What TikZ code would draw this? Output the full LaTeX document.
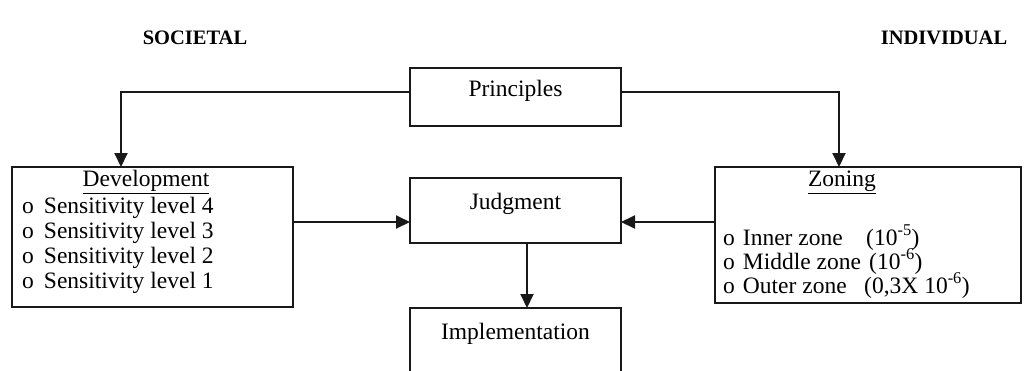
\documentclass[tikz,border=0pt]{standalone}
\usepackage{fontspec}
\setmainfont{Liberation Serif}
\usetikzlibrary{arrows.meta}
\tikzset{
  boxline/.style={draw=black!90, line width=2pt},
  conn/.style={draw=black!90, line width=2pt, -{Triangle[length=14pt,width=13pt]}},
  body/.style={font=\fontsize{23.5}{25}\selectfont, inner sep=0pt},
  item/.style={body, anchor=base west},
  head/.style={font=\fontsize{20.5}{22}\selectfont\bfseries, inner sep=0pt}
}
\begin{document}
\begin{tikzpicture}[x=1pt,y=-1pt]
\useasboundingbox (0,0) rectangle (1031,370);
% headings
\node[head] (soc) at (195,38) {SOCIETAL};
\node[head] (ind) at (944,38) {INDIVIDUAL};
% boxes
\draw[boxline] (410,68) rectangle (621,126);
\coordinate (pL) at (410,92); \coordinate (pR) at (621,92);
\node[body] (prin) at (515.5,91) {Principles};
\draw[boxline] (410,178) rectangle (621,243);
\coordinate (jL) at (410,222); \coordinate (jR) at (621,222); \coordinate (jB) at (527,243);
\node[body] (judg) at (515.5,204) {Judgment};
\draw[boxline] (410,308) rectangle (621,372);
\coordinate (iT) at (527,308);
\node[body] (impl) at (515.5,334) {Implementation};
% Development
\draw[boxline] (12,167) rectangle (293,307);
\coordinate (dT) at (121,167); \coordinate (dR) at (293,222);
\node[body] (dev) at (146,182) {\underline{Development}};
\node[item] (d4) at (22,213) {o\hspace{10pt}Sensitivity level 4};
\node[item] (d3) at (22,238) {o\hspace{10pt}Sensitivity level 3};
\node[item] (d2) at (22,263) {o\hspace{10pt}Sensitivity level 2};
\node[item] (d1) at (22,288) {o\hspace{10pt}Sensitivity level 1};
% Zoning
\draw[boxline] (715,167) rectangle (1021,303);
\coordinate (zT) at (839,167); \coordinate (zL) at (715,222);
\node[body] (zon) at (842,182) {\underline{Zoning}};
\node[item] (z1) at (723,245) {o\hspace{8pt}Inner zone};
\node[item] (z1v) at (866,245) {(10\textsuperscript{-5})};
\node[item] (z2) at (723,269) {o\hspace{8pt}Middle zone};
\node[item] (z2v) at (869,269) {(10\textsuperscript{-6})};
\node[item] (z3) at (723,293) {o\hspace{8pt}Outer zone};
\node[item] (z3v) at (864,293) {(0,3X 10\textsuperscript{-6})};
% connectors
\draw[conn] (pL) -| (dT);
\draw[conn] (pR) -| (zT);
\draw[conn] (dR) -- (jL);
\draw[conn] (zL) -- (jR);
\draw[conn] (jB) -- (iT);
\end{tikzpicture}
\end{document}
